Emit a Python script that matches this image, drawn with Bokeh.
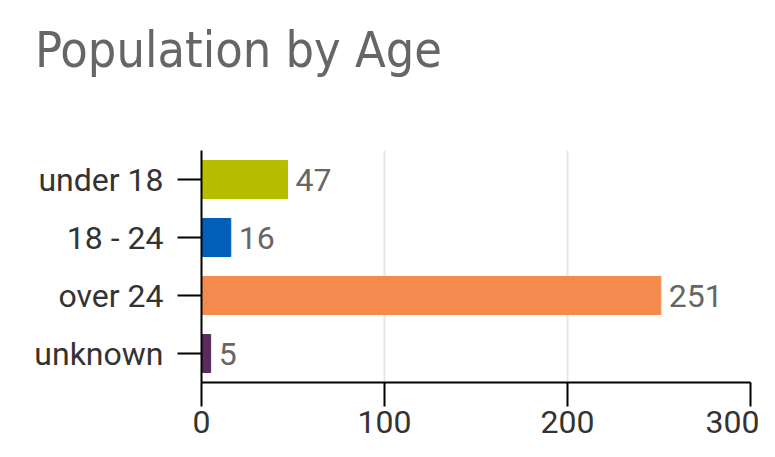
from bokeh.plotting import figure
from bokeh.models import ColumnDataSource, FactorRange, Range1d, FixedTicker, Div
from bokeh.layouts import column
from bokeh.core.properties import value
from bokeh.embed import file_html
from bokeh.resources import INLINE

categories = ["under 18", "18 - 24", "over 24", "unknown"]
counts = [47, 16, 251, 5]
colors = ["#b7bd00", "#015fb9", "#f58a4f", "#5a2b5c"]
x_ticks = [0, 100, 200, 300]
title_text = "Population by Age"

source = ColumnDataSource(dict(cat=categories, val=counts, color=colors,
                               label=[str(c) for c in counts]))

header = Div(
    text=('<div style="padding:25px 0 0 35px;margin:0;font-family:\'DejaVu Sans Condensed\';'
          'font-size:50px;line-height:50px;color:#666666;white-space:nowrap;">'
          + title_text + '</div>'),
    width=759, height=90, margin=(0, 0, 0, 0))

p = figure(width=759, height=351, output_backend="svg", toolbar_location=None,
           y_range=FactorRange(*reversed(categories), range_padding=0),
           x_range=Range1d(0, 300),
           min_border_left=201, min_border_right=9, min_border_bottom=59, min_border_top=60)

p.hbar(y="cat", right="val", left=0, height=0.655, color="color", source=source)
p.text(x="val", y="cat", text="label", source=source, x_offset=8,
       text_baseline="middle", text_align="left", text_font=value("Roboto"),
       text_font_size="32px", text_color="#666666")

p.outline_line_color = None
p.ygrid.grid_line_color = None
p.xgrid.grid_line_color = "#e6e6e6"
p.xgrid.grid_line_width = 2
p.xaxis.ticker = FixedTicker(ticks=x_ticks)

for ax in (p.xaxis[0], p.yaxis[0]):
    ax.axis_line_color = "black"
    ax.axis_line_width = 2
    ax.major_tick_line_color = "black"
    ax.major_tick_line_width = 2
    ax.major_tick_out = 24
    ax.major_tick_in = 0
    ax.minor_tick_line_color = None
    ax.major_label_text_font = "Roboto"
    ax.major_label_text_font_size = "32px"
    ax.major_label_text_color = "#333333"

p.yaxis.major_label_standoff = 14
p.xaxis.major_label_standoff = 4

layout = column(header, p, spacing=0)
open("out.html", "w").write(file_html(layout, INLINE))
